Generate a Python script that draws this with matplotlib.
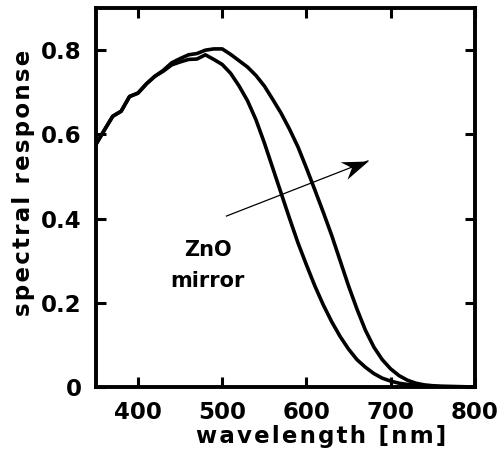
import numpy as np
import matplotlib
matplotlib.use("Agg")
import matplotlib.pyplot as plt
from matplotlib.path import Path

plt.rcParams['font.family'] = ['DejaVu Sans']
plt.rcParams['font.weight'] = 'bold'

# Datos
wl = [350, 360, 370, 380, 390, 400, 410, 420, 430, 440, 450, 460, 470, 480,
      490, 500, 510, 520, 530, 540, 550, 560, 570, 580, 590, 600, 610, 620,
      630, 640, 650, 660, 670, 680, 690, 700, 710, 720, 730, 740, 750, 760,
      780, 800]
# con espejo de ZnO (curva exterior)
zno = [0.576, 0.61, 0.643, 0.655, 0.69, 0.698, 0.72, 0.738, 0.752, 0.77,
       0.78, 0.789, 0.792, 0.80, 0.803, 0.803, 0.79, 0.775, 0.76, 0.74,
       0.715, 0.683, 0.65, 0.612, 0.57, 0.52, 0.468, 0.415, 0.36, 0.30,
       0.24, 0.185, 0.135, 0.095, 0.065, 0.043, 0.027, 0.016, 0.009, 0.005,
       0.003, 0.002, 0.001, 0.0]
# sin espejo (curva interior)
ref = [0.576, 0.61, 0.643, 0.655, 0.69, 0.698, 0.72, 0.738, 0.75, 0.765,
       0.772, 0.778, 0.779, 0.789, 0.778, 0.766, 0.745, 0.715, 0.68, 0.635,
       0.58, 0.52, 0.46, 0.40, 0.342, 0.29, 0.24, 0.195, 0.155, 0.12,
       0.09, 0.065, 0.047, 0.032, 0.021, 0.014, 0.009, 0.006, 0.004, 0.002,
       0.001, 0.0005, 0.0, 0.0]

xticks = [400, 500, 600, 700, 800]
yticks = [0, 0.2, 0.4, 0.6, 0.8]
ytick_labels = ['0', '0.2', '0.4', '0.6', '0.8']
arrow_start = (505, 0.406)
arrow_end = (673, 0.537)


def espaciar(s):
    # separacion extra entre letras (hair space)
    return '\u200a'.join(s)


fig = plt.figure(figsize=(5.02, 4.61), dpi=100)
ax = fig.add_axes([0.191, 0.1605, 0.755, 0.822])

ax.plot(wl, zno, 'k-', linewidth=2.6)
ax.plot(wl, ref, 'k-', linewidth=2.6)

ax.set_xlim(350, 800)
ax.set_ylim(0, 0.9)

# flecha: linea fina + punta con muescas
ax.plot([arrow_start[0], arrow_end[0]], [arrow_start[1], arrow_end[1]],
        'k-', linewidth=0.9)
p0 = ax.transData.transform(arrow_start)
p1 = ax.transData.transform(arrow_end)
ang = np.arctan2(p1[1] - p0[1], p1[0] - p0[0])
verts = np.array([[0, 0], [-28, 10], [-19, 0], [-28, -10], [0, 0]], float)
rot = np.array([[np.cos(ang), -np.sin(ang)], [np.sin(ang), np.cos(ang)]])
verts = verts @ rot.T
head = Path(verts, [Path.MOVETO, Path.LINETO, Path.LINETO, Path.LINETO,
                    Path.CLOSEPOLY])
ax.plot([arrow_end[0]], [arrow_end[1]], marker=head, markersize=40,
        color='k', markeredgewidth=0)

ax.text(483, 0.325, 'ZnO', ha='center', va='center', fontsize=15,
        fontweight='bold')
ax.text(483, 0.252, 'mirror', ha='center', va='center', fontsize=15,
        fontweight='bold')

ax.set_xticks(xticks)
ax.set_xticklabels([str(t) for t in xticks])
ax.set_yticks(yticks)
ax.set_yticklabels(ytick_labels)
ax.tick_params(direction='in', length=7.5, width=2.2, labelsize=16.5,
               top=True, right=True)
ax.tick_params(axis='x', pad=10)
ax.tick_params(axis='y', pad=10)
for s in ax.spines.values():
    s.set_linewidth(2.8)

ax.set_xlabel(espaciar('wavelength [nm]'), fontsize=16.5, fontweight='bold')
ax.set_ylabel(espaciar('spectral response'), fontsize=16.5, fontweight='bold')
ax.xaxis.label.set_va('baseline')
ax.yaxis.label.set_va('baseline')
ax.xaxis.set_label_coords(0.594, -0.149)
ax.yaxis.set_label_coords(-0.174, 0.538)

plt.savefig('out.png', dpi=100)
